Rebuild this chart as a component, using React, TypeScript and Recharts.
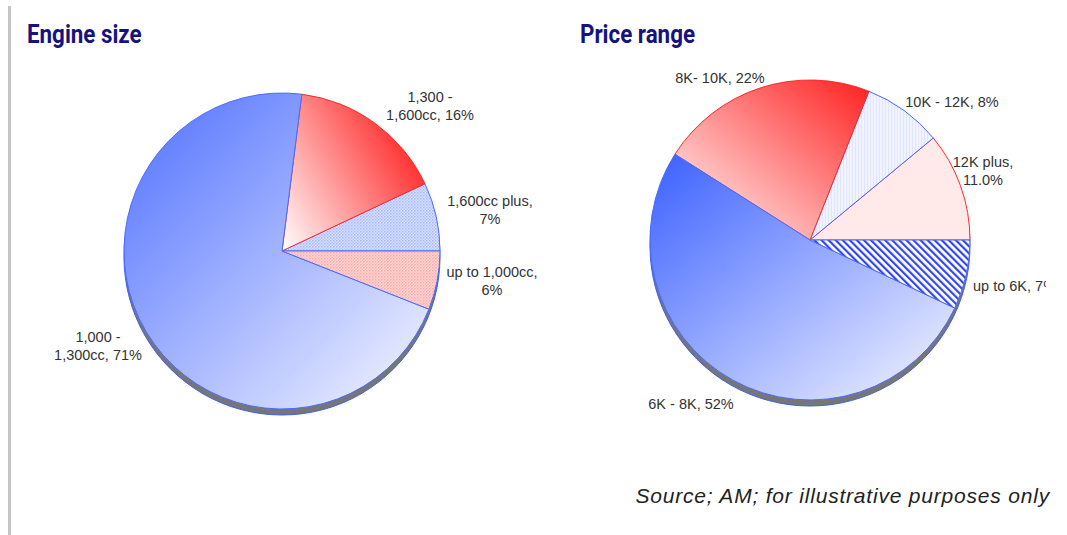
import { Cell, Pie, PieChart } from "recharts";

const engineNames = ["1,600cc plus", "1,300 - 1,600cc", "1,000 - 1,300cc", "up to 1,000cc"];
const engineShares = [7, 16, 71, 6];
const engineLabels = [
  ["1,600cc plus,", "7%"],
  ["1,300 -", "1,600cc, 16%"],
  ["1,000 -", "1,300cc, 71%"],
  ["up to 1,000cc,", "6%"],
];

const priceNames = ["12K plus", "10K - 12K", "8K- 10K", "6K - 8K", "up to 6K"];
const priceShares = [11, 8, 22, 52, 7];
const priceLabels = [
  ["12K plus,", "11.0%"],
  ["10K - 12K, 8%"],
  ["8K- 10K, 22%"],
  ["6K - 8K, 52%"],
  ["up to 6K, 7%"],
];

const engineData = engineNames.map((name, i) => ({ name, value: engineShares[i] }));
const priceData = priceNames.map((name, i) => ({ name, value: priceShares[i] }));

const BLUE = "#4a6bff";
const RED = "#ff2a2a";

const engineCells = [
  { fill: "url(#dotBlue)", stroke: BLUE },
  { fill: "url(#gradRedA)", stroke: RED },
  { fill: "url(#gradBlueA)", stroke: BLUE },
  { fill: "url(#dotRed)", stroke: BLUE },
];
const priceCells = [
  { fill: "#ffe9e9", stroke: RED },
  { fill: "url(#lineBlue)", stroke: BLUE },
  { fill: "url(#gradRedB)", stroke: RED },
  { fill: "url(#gradBlueB)", stroke: BLUE },
  { fill: "url(#hatchBlue)", stroke: BLUE },
];

// label placement relative to pie centre
const engineLabelPos = [
  [208, -41, "middle"],
  [148, -145, "middle"],
  [-184, 95, "middle"],
  [210, 30, "middle"],
];
const priceLabelPos = [
  [173, -69, "middle"],
  [142, -138, "middle"],
  [-90, -162, "middle"],
  [-119, 164, "middle"],
  [163, 46, "start"],
];

const makeLabel = (lines: string[][], pos: any[]) => (props: any) => {
  const { cx, cy, index } = props;
  const [dx, dy, anchor] = pos[index];
  const rows = lines[index];
  const start = cy + dy - ((rows.length - 1) * 18) / 2;
  return (
    <text
      key={`l-${index}`}
      x={cx + dx}
      y={start}
      textAnchor={anchor}
      dominantBaseline="central"
      fontFamily="Liberation Sans, Arial, sans-serif"
      fontSize={14.5}
      fill="#333"
    >
      {rows.map((r, j) => (
        <tspan key={j} x={cx + dx} y={start + j * 18}>
          {r}
        </tspan>
      ))}
    </text>
  );
};

const titleStyle: React.CSSProperties = {
  position: "absolute",
  top: 19,
  fontFamily: "Roboto, sans-serif",
  fontWeight: 700,
  fontSize: 26,
  color: "#16137f",
  transform: "scaleX(0.86)",
  transformOrigin: "left top",
  whiteSpace: "nowrap",
};

export default function App() {
  return (
    <div
      style={{
        position: "absolute",
        left: 0,
        top: 0,
        width: 1067,
        height: 535,
        background: "#fff",
        overflow: "hidden",
      }}
    >
      <div
        style={{
          position: "absolute",
          left: 8,
          top: 6,
          width: 3,
          height: 529,
          background: "#c4c4c4",
        }}
      />
      <div style={{ ...titleStyle, left: 27 }}>Engine size</div>
      <div style={{ ...titleStyle, left: 580 }}>Price range</div>
      <div style={{ position: "absolute", left: 0, top: 0, width: 1046, height: 535, overflow: "hidden" }}>
        <PieChart width={1046} height={535} margin={{ top: 0, right: 0, bottom: 0, left: 0 }}>
          <defs>
            <linearGradient id="gradBlueA" x1="0" y1="0" x2="1" y2="1">
              <stop offset="0%" stopColor="#4e6fff" />
              <stop offset="100%" stopColor="#f6f7ff" />
            </linearGradient>
            <linearGradient id="gradBlueB" x1="0" y1="0" x2="1" y2="1">
              <stop offset="0%" stopColor="#3a60ff" />
              <stop offset="100%" stopColor="#f6f7ff" />
            </linearGradient>
            <linearGradient id="gradRedA" x1="0" y1="1" x2="1" y2="0.35">
              <stop offset="0%" stopColor="#ffffff" />
              <stop offset="100%" stopColor="#ff2020" />
            </linearGradient>
            <linearGradient id="gradRedB" x1="0" y1="1" x2="1" y2="0">
              <stop offset="0%" stopColor="#ffffff" />
              <stop offset="100%" stopColor="#ff1f1f" />
            </linearGradient>
            <pattern id="dotBlue" width="3" height="3" patternUnits="userSpaceOnUse">
              <rect width="3" height="3" fill="#d8e0ff" />
              <rect width="1.5" height="1.5" fill="#a9b9ff" />
              <rect x="1.5" y="1.5" width="1.5" height="1.5" fill="#bac7ff" />
            </pattern>
            <pattern id="dotRed" width="3" height="3" patternUnits="userSpaceOnUse">
              <rect width="3" height="3" fill="#ffd6d6" />
              <rect width="1.5" height="1.5" fill="#ffa8a8" />
              <rect x="1.5" y="1.5" width="1.5" height="1.5" fill="#ffbcbc" />
            </pattern>
            <pattern id="lineBlue" width="3" height="3" patternUnits="userSpaceOnUse">
              <rect width="3" height="3" fill="#f1f4ff" />
              <rect width="1" height="3" fill="#dfe6ff" />
            </pattern>
            <pattern id="hatchBlue" width="5" height="5" patternUnits="userSpaceOnUse" patternTransform="rotate(-45)">
              <rect width="5" height="5" fill="#ffffff" />
              <rect width="2.2" height="5" fill="#3347e6" />
            </pattern>
          </defs>

          <Pie
            data={[{ value: 1 }]}
            dataKey="value"
            cx={282}
            cy={257}
            outerRadius={158}
            fill="#767676"
            stroke="#3f5fef"
            isAnimationActive={false}
          />
          <Pie
            data={engineData}
            dataKey="value"
            nameKey="name"
            cx={282}
            cy={251}
            outerRadius={158}
            startAngle={0}
            endAngle={360}
            labelLine={false}
            label={makeLabel(engineLabels, engineLabelPos)}
            isAnimationActive={false}
          >
            {engineCells.map((c, i) => (
              <Cell key={i} fill={c.fill} stroke={c.stroke} strokeWidth={1} />
            ))}
          </Pie>

          <Pie
            data={[{ value: 1 }]}
            dataKey="value"
            cx={810}
            cy={246}
            outerRadius={160}
            fill="#767676"
            stroke="#3f5fef"
            isAnimationActive={false}
          />
          <Pie
            data={priceData}
            dataKey="value"
            nameKey="name"
            cx={810}
            cy={240}
            outerRadius={160}
            startAngle={0}
            endAngle={360}
            labelLine={false}
            label={makeLabel(priceLabels, priceLabelPos)}
            isAnimationActive={false}
          >
            {priceCells.map((c, i) => (
              <Cell key={i} fill={c.fill} stroke={c.stroke} strokeWidth={1} />
            ))}
          </Pie>
        </PieChart>
      </div>
      <div
        style={{
          position: "absolute",
          right: 17,
          top: 484,
          fontFamily: "Liberation Sans, Arial, sans-serif",
          fontStyle: "italic",
          fontSize: 21,
          letterSpacing: 0.8,
          color: "#222",
          whiteSpace: "nowrap",
        }}
      >
        Source; AM; for illustrative purposes only
      </div>
    </div>
  );
}
